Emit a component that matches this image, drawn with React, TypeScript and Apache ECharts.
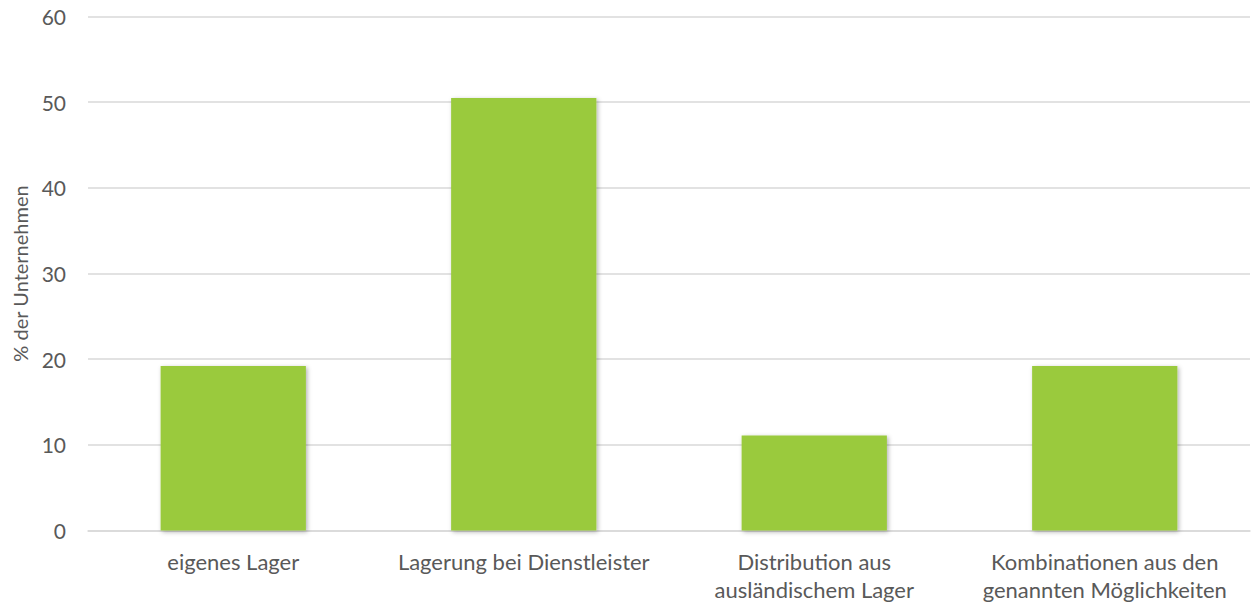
import React, { useEffect, useRef } from "react";
import * as echarts from "echarts";

const categories = [
  "eigenes Lager",
  "Lagerung bei Dienstleister",
  "Distribution aus\nausländischem Lager",
  "Kombinationen aus den\ngenannten Möglichkeiten",
];
const values = [19.2, 50.5, 11.1, 19.2];
const yTicks = { min: 0, max: 60, interval: 10 };
const yName = "% der Unternehmen";

export default function App() {
  const ref = useRef<HTMLDivElement>(null);
  useEffect(() => {
    document.body.style.margin = "0";
    const chart = echarts.init(ref.current!, undefined, { renderer: "svg" });
    const font = "Lato, sans-serif";
    chart.setOption({
      animation: false,
      backgroundColor: "#ffffff",
      grid: { left: 88, right: 7, top: 16.5, bottom: 74.5, containLabel: false },
      xAxis: {
        type: "category",
        data: categories,
        axisLine: { lineStyle: { color: "#d9d9d9", width: 1.5 } },
        axisTick: { show: false },
        axisLabel: {
          color: "#595959",
          fontSize: 22,
          fontFamily: font,
          lineHeight: 28,
          margin: 17,
          interval: 0,
        },
      },
      yAxis: {
        type: "value",
        min: yTicks.min,
        max: yTicks.max,
        interval: yTicks.interval,
        name: yName,
        nameLocation: "middle",
        nameGap: 58,
        nameTextStyle: { color: "#595959", fontSize: 20, fontFamily: font },
        axisLine: { show: false },
        axisTick: { show: false },
        splitLine: { lineStyle: { color: "#d9d9d9", width: 1.5 } },
        axisLabel: { color: "#595959", fontSize: 21, fontFamily: font, margin: 22 },
      },
      series: [
        {
          type: "bar",
          data: values,
          barWidth: "50%",
          itemStyle: {
            color: "#9ACA3C",
            shadowBlur: 4,
            shadowOffsetX: 1.5,
            shadowOffsetY: 1.5,
            shadowColor: "rgba(0,0,0,0.3)",
          },
        },
      ],
    });
    return () => chart.dispose();
  }, []);
  return <div ref={ref} style={{ width: 1257, height: 605 }} />;
}
